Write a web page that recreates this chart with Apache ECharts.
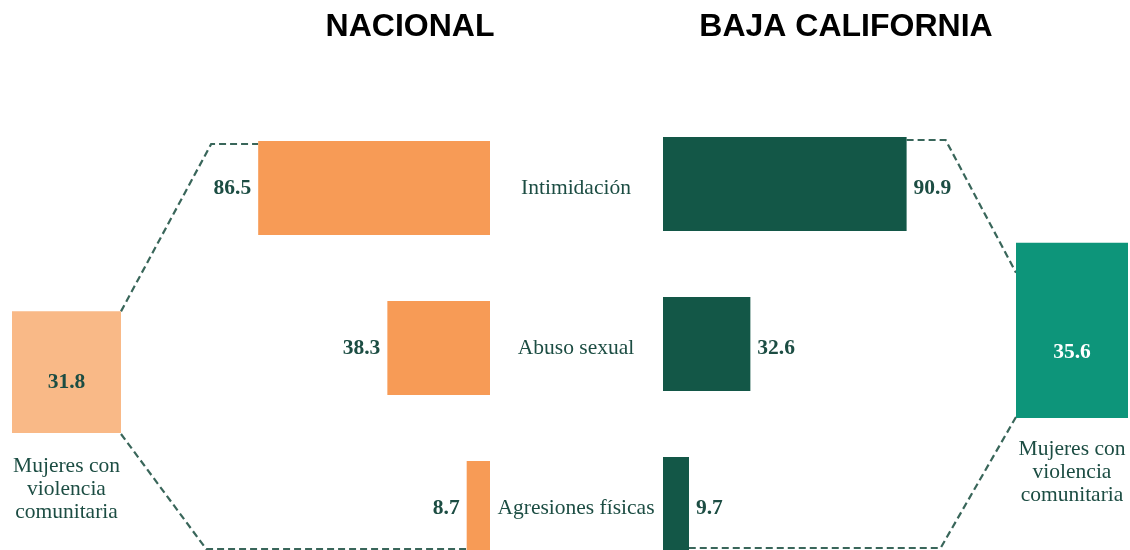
<!DOCTYPE html>
<html>
<head>
<meta charset="utf-8">
<script src="https://cdn.jsdelivr.net/npm/echarts@6/dist/echarts.min.js"></script>
<style>
  html, body { margin: 0; padding: 0; background: #fff; }
  #chart { width: 1130px; height: 550px; }
</style>
</head>
<body>
<div id="chart"></div>
<script>
// data
const categories = ['Intimidación', 'Abuso sexual', 'Agresiones físicas'];
const nacional = [86.5, 38.3, 8.7];
const bajaCalifornia = [90.9, 32.6, 9.7];
const totalCategory = ['Mujeres con\nviolencia\ncomunitaria'];
const nacionalTotal = [31.8];
const bajaCaliforniaTotal = [35.6];
const titles = ['NACIONAL', 'BAJA CALIFORNIA'];

const SERIF = '"Liberation Serif", "DejaVu Serif", serif';
const TEXT = '#1c4d43';
const DASH = '#39665a';
const BAR_W = 94;

const chart = echarts.init(document.getElementById('chart'));

const valueLabel = (pos, color, offset) => ({
    show: true,
    position: pos,
    distance: 7,
    offset: offset || [0, 0],
    color: color || TEXT,
    fontFamily: SERIF,
    fontWeight: 'bold',
    fontSize: 21.5
});

const hiddenValue = (max, inverse) => ({
    type: 'value', min: 0, max: max, inverse: !!inverse, show: false
});

const boxAxis = (idx, margin) => ({
    type: 'category',
    gridIndex: idx,
    data: totalCategory,
    axisLine: { show: false },
    axisTick: { show: false },
    axisLabel: {
        margin: margin,
        color: TEXT,
        fontFamily: SERIF,
        fontSize: 21.5,
        lineHeight: 23,
        align: 'center'
    }
});

const option = {
    animation: false,
    backgroundColor: '#fff',
    grid: [
        { left: 222, right: 640, top: 108, bottom: -38, outerBoundsMode: 'none' },
        { left: 663, right: 199, top: 104, bottom: -34, outerBoundsMode: 'none' },
        { left: 12, right: 1009, top: 280, bottom: 117, outerBoundsMode: 'none' },
        { left: 1016, right: 2, top: 221, bottom: 132, outerBoundsMode: 'none' }
    ],
    xAxis: [
        Object.assign(hiddenValue(100, true), { gridIndex: 0 }),
        Object.assign(hiddenValue(100), { gridIndex: 1 }),
        boxAxis(2, 22),
        boxAxis(3, 20)
    ],
    yAxis: [
        {
            type: 'category',
            gridIndex: 0,
            data: categories,
            inverse: true,
            position: 'right',
            axisLine: { show: false },
            axisTick: { show: false },
            axisLabel: {
                margin: 86,
                align: 'center',
                color: TEXT,
                fontFamily: SERIF,
                fontSize: 21.5
            }
        },
        { type: 'category', gridIndex: 1, data: categories, inverse: true, show: false },
        Object.assign(hiddenValue(40), { gridIndex: 2 }),
        Object.assign(hiddenValue(40), { gridIndex: 3 })
    ],
    series: [
        {
            type: 'bar', xAxisIndex: 0, yAxisIndex: 0,
            data: nacional, barWidth: BAR_W,
            itemStyle: { color: '#f79b56' },
            label: valueLabel('left')
        },
        {
            type: 'bar', xAxisIndex: 1, yAxisIndex: 1,
            data: bajaCalifornia, barWidth: BAR_W,
            itemStyle: { color: '#135747' },
            label: valueLabel('right', null, [0, 4])
        },
        {
            type: 'bar', xAxisIndex: 2, yAxisIndex: 2,
            data: nacionalTotal, barWidth: '100%',
            itemStyle: { color: '#f9b987' },
            label: valueLabel('inside', null, [0, 10])
        },
        {
            type: 'bar', xAxisIndex: 3, yAxisIndex: 3,
            data: bajaCaliforniaTotal, barWidth: '100%',
            itemStyle: { color: '#0d957a' },
            label: valueLabel('inside', '#ffffff', [0, 22])
        }
    ]
};

chart.setOption(option);

// connectors, placed from the bars' own pixel positions
const px = (grid, pt) => chart.convertToPixel({ gridIndex: grid }, pt);
const half = BAR_W / 2;
const n0 = px(0, [nacional[0], 0]);
const n2 = px(0, [nacional[2], 2]);
const b0 = px(1, [bajaCalifornia[0], 0]);
const b2 = px(1, [bajaCalifornia[2], 2]);
const nTop = px(2, [0, nacionalTotal[0]]);
const nBot = px(2, [0, 0]);
const bTop = px(3, [0, bajaCaliforniaTotal[0]]);
const bBot = px(3, [0, 0]);
const nHalfW = 54.5, bHalfW = 56;

const dashed = (points) => ({
    type: 'polyline',
    silent: true,
    shape: { points: points },
    style: { stroke: DASH, lineWidth: 2.2, lineDash: [7, 4], fill: null }
});

const heading = (text, x) => ({
    type: 'text',
    x: x, y: 27,
    style: {
        text: text,
        fill: '#000',
        font: 'bold 32px "Liberation Sans", Arial, sans-serif',
        textAlign: 'center',
        textVerticalAlign: 'middle'
    }
});

chart.setOption({
    graphic: [
        heading(titles[0], 410),
        heading(titles[1], 846),
        dashed([[nTop[0] + nHalfW, nTop[1]], [n0[0] - 47, n0[1] - half + 3], [n0[0], n0[1] - half + 3]]),
        dashed([[nBot[0] + nHalfW, nBot[1] + 1], [n0[0] - 52, n2[1] + 41], [n2[0], n2[1] + 41]]),
        dashed([[b0[0], b0[1] - half + 3], [b0[0] + 39, b0[1] - half + 3], [bTop[0] - bHalfW, bTop[1] + 30]]),
        dashed([[bBot[0] - bHalfW, bBot[1] - 1], [b0[0] + 34, b2[1] + 44], [b2[0], b2[1] + 44]])
    ]
});
</script>
</body>
</html>
